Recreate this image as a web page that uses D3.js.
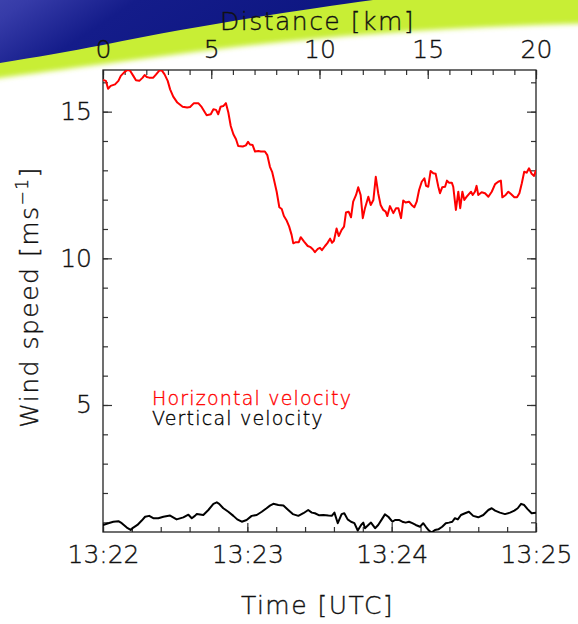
<!DOCTYPE html>
<html lang="en">
<head>
    <meta charset="UTF-8">
    <title>Wind speed along the flight track</title>
    <style>
        html, body { margin: 0; padding: 0; background: #fff; }
        svg { display: block; }
        text { font-family: "DejaVu Sans", sans-serif; font-weight: 200; fill: #111; stroke: #111; stroke-width: 0.35px; }
        .axis path.domain { display: none; }
        .axis line { stroke: #333; stroke-width: 1.2px; }
    </style>
</head>
<body>
    <svg id="chart" width="578" height="624"></svg>

    <script src="https://d3js.org/d3.v7.min.js"></script>
    <script>
        // --- Data (seconds after 13:22:00 UTC, wind speed in m/s) ---
        const horizTime = [0, 1.2, 2.1, 3.2, 5.0, 6.4, 7.4, 8.7, 10.1, 11.2, 12.6, 13.7, 15.1, 16.5, 17.3, 18.2, 19.2, 20.9, 22.0, 23.4,
            24.5, 25.6, 26.9, 27.9, 29.2, 30.9, 33.1, 35.0, 36.2, 37.8, 39.6, 41.0, 42.4, 43.1, 44.8, 45.9, 47.0, 47.9, 48.9, 50.0,
            51.1, 52.1, 53.1, 54.2, 55.3, 56.2, 58.1, 59.4, 60.3, 61.1, 62.2, 63.2, 64.6, 65.6, 67.3, 68.3, 69.4, 70.3, 71.1, 72.2,
            73.3, 74.3, 75.2, 76.4, 77.4, 78.4, 79.1, 80.2, 81.4, 82.2, 83.6, 85.1, 86.3, 87.2, 88.1, 89.3, 90.2, 91.0, 92.3, 93.2,
            94.4, 95.2, 96.0, 97.1, 98.0, 99.2, 100.2, 101.0, 102.1, 103.1, 104.0, 105.2, 106.1, 107.1, 108.0, 108.9, 110.3, 111.3, 112.4, 113.4,
            114.4, 115.4, 116.5, 117.5, 118.2, 119.3, 120.7, 121.8, 122.8, 123.9, 124.8, 125.8, 127.2, 128.3, 129.4, 130.4, 131.4, 132.5, 133.6, 134.3,
            135.2, 136.2, 137.3, 138.3, 139.4, 140.1, 141.0, 142.2, 143.0, 143.8, 145.0, 145.6, 146.7, 147.7, 148.5, 149.4, 150.2, 151.2, 152.1, 153.0,
            153.7, 154.6, 155.3, 156.0, 157.4, 158.8, 160.2, 161.6, 163.0, 164.3, 165.4, 166.0, 167.4, 168.5, 169.6, 171.0, 172.1, 173.1, 174.1, 175.1,
            176.1, 177.1, 178.2, 179.2, 180];
        const horizSpeed = [16.08, 16.05, 15.78, 15.88, 15.93, 16.05, 16.22, 16.33, 16.42, 16.40, 16.22, 16.07, 16.05, 16.16, 16.25, 16.18, 16.16, 16.16, 16.26, 16.40,
            16.40, 16.27, 16.05, 15.76, 15.51, 15.31, 15.17, 15.14, 15.16, 15.29, 15.29, 15.16, 14.97, 14.88, 14.91, 15.08, 15.06, 14.91, 15.17, 15.19,
            15.29, 14.97, 14.51, 14.23, 14.06, 13.83, 13.81, 13.85, 13.97, 13.88, 13.86, 13.64, 13.66, 13.64, 13.64, 13.52, 13.12, 12.95, 12.67, 12.27,
            11.74, 11.68, 11.44, 11.28, 11.08, 10.80, 10.51, 10.55, 10.55, 10.72, 10.57, 10.42, 10.38, 10.31, 10.21, 10.32, 10.36, 10.28, 10.42, 10.51,
            10.67, 10.53, 10.60, 11.02, 10.76, 10.97, 11.08, 11.56, 11.59, 11.40, 11.93, 12.16, 12.42, 12.16, 11.37, 11.71, 12.10, 11.82, 11.99, 12.78,
            12.22, 11.82, 11.65, 11.59, 11.44, 11.78, 11.54, 11.71, 11.71, 11.37, 11.97, 11.90, 11.93, 11.82, 11.74, 11.93, 12.33, 12.61, 12.73, 12.47,
            12.44, 12.98, 12.90, 12.88, 12.44, 12.22, 12.42, 12.44, 12.65, 12.58, 12.58, 12.44, 11.65, 12.27, 11.71, 12.27, 11.99, 12.10, 12.19, 12.27,
            12.16, 12.27, 12.47, 12.16, 12.25, 12.22, 12.10, 12.27, 12.53, 12.61, 12.65, 12.08, 12.16, 12.27, 12.19, 12.08, 12.08, 12.22, 12.56, 12.95,
            12.92, 13.07, 12.88, 12.81, 13.01];

        const vertTime = [0, 2.2, 4.3, 6.4, 7.8, 9.9, 11.5, 12.6, 14.3, 16.1, 17.5, 19.2, 20.9, 23.0, 25.1, 27.9, 30.6, 33.4, 35.5, 36.9,
            38.2, 39.0, 41.7, 43.8, 45.9, 47.3, 48.3, 50.0, 52.1, 54.2, 55.8, 57.7, 59.7, 61.8, 63.9, 66.0, 68.0, 69.4, 70.8, 72.9,
            75.0, 77.0, 78.9, 81.2, 83.3, 85.3, 86.8, 88.1, 89.9, 91.6, 93.7, 95.1, 96.2, 97.6, 99.2, 100.3, 101.7, 103.1, 104.5, 105.9,
            107.3, 108.2, 108.9, 110.3, 111.4, 113.1, 114.4, 115.9, 117.2, 118.6, 120.3, 121.4, 123.0, 124.4, 125.8, 127.2, 128.6, 130.0, 131.8, 133.1,
            134.3, 135.5, 136.6, 138.0, 139.4, 141.0, 142.5, 143.8, 145.2, 146.3, 147.5, 148.8, 150.5, 152.1, 153.9, 156.0, 158.1, 160.2, 161.6, 163.0,
            165.0, 167.1, 169.2, 171.0, 172.4, 173.8, 175.1, 176.5, 178.2, 180];
        const vertSpeed = [0.91, 0.97, 1.02, 1.04, 0.97, 0.82, 0.74, 0.82, 0.91, 1.06, 1.19, 1.22, 1.14, 1.14, 1.19, 1.23, 1.10, 1.17, 1.26, 1.14,
            1.22, 1.28, 1.25, 1.42, 1.63, 1.68, 1.63, 1.48, 1.36, 1.22, 1.10, 1.02, 1.08, 1.22, 1.25, 1.36, 1.48, 1.57, 1.63, 1.59,
            1.57, 1.42, 1.28, 1.22, 1.31, 1.42, 1.33, 1.31, 1.24, 1.25, 1.23, 1.22, 1.33, 0.97, 1.28, 1.31, 1.10, 1.02, 0.97, 0.72,
            0.91, 0.99, 0.80, 0.91, 0.99, 0.80, 0.91, 1.10, 1.27, 1.19, 1.02, 1.08, 1.08, 1.02, 0.99, 1.02, 0.97, 0.91, 0.85, 0.97,
            0.84, 0.72, 0.65, 0.74, 0.76, 0.85, 0.97, 0.99, 1.02, 1.14, 1.10, 1.25, 1.31, 1.36, 1.22, 1.17, 1.25, 1.42, 1.48, 1.40,
            1.33, 1.28, 1.33, 1.40, 1.48, 1.63, 1.59, 1.45, 1.31, 1.33];

        const timeTicks = [0, 60, 120, 180];
        const timeLabels = ["13:22", "13:23", "13:24", "13:25"];
        const distTicks = [0, 5, 10, 15, 20];
        const speedTicks = [5, 10, 15];
        const legendLabels = ["Horizontal velocity", "Vertical velocity"];
        const legendColors = ["#ff0000", "#000000"];

        // --- Layout ---
        const svg = d3.select("#chart");
        const pLeft = 103, pRight = 536, pTop = 70, pBottom = 532;

        // --- Decorative slide banner (blue + yellow-green swoosh) ---
        const defs = svg.append("defs");
        const grad = defs.append("linearGradient").attr("id", "blueGrad")
            .attr("x1", "0").attr("y1", "0").attr("x2", "1").attr("y2", "0.35");
        grad.append("stop").attr("offset", "0").attr("stop-color", "#4a50b6");
        grad.append("stop").attr("offset", "0.22").attr("stop-color", "#363ba8");
        grad.append("stop").attr("offset", "0.45").attr("stop-color", "#141c8a");
        grad.append("stop").attr("offset", "1").attr("stop-color", "#0c1580");
        defs.append("filter").attr("id", "soft").attr("x", "-10%").attr("y", "-50%").attr("width", "120%").attr("height", "200%")
            .append("feGaussianBlur").attr("stdDeviation", 2.5);
        defs.append("clipPath").attr("id", "plotClip")
            .append("rect").attr("x", pLeft).attr("y", pTop).attr("width", pRight - pLeft).attr("height", pBottom - pTop);

        svg.append("path")
            .attr("d", "M-30,-30 L620,-30 L620,23 C480,25 340,34 210,50 C130,60 60,70 -30,82 Z")
            .attr("fill", "#c8ee34")
            .attr("filter", "url(#soft)");
        svg.append("path")
            .attr("d", "M-30,-30 L390,-30 L373,0 C300,10 200,25 103,45 C60,53 20,60 -30,68 Z")
            .attr("fill", "url(#blueGrad)");

        // --- Scales ---
        const x = d3.scaleLinear().domain([0, 180]).range([pLeft, pRight]);
        const xDist = d3.scaleLinear().domain([0, 20]).range([pLeft, pRight]);
        const y = d3.scaleLinear().domain([0.67, 16.42]).range([pBottom, pTop]);

        // plot background
        svg.append("rect").attr("x", pLeft).attr("y", pTop)
            .attr("width", pRight - pLeft).attr("height", pBottom - pTop).attr("fill", "#fff");

        // --- Axes: ticks point inward ---
        function axisPair(axisFn, scale, major, minor, pos, pad, fmt) {
            svg.append("g").attr("class", "axis").attr("transform", pos)
                .call(axisFn(scale).tickValues(minor).tickSize(-5).tickFormat(""));
            return svg.append("g").attr("class", "axis").attr("transform", pos)
                .call(axisFn(scale).tickValues(major).tickSize(-9).tickPadding(pad)
                    .tickFormat(fmt || ""));
        }

        const timeMinor = d3.range(0, 181, 12);
        const distMinor = d3.range(0, 21, 1);
        const speedMinor = d3.range(1, 17, 1);

        const gx = axisPair(d3.axisBottom, x, timeTicks, timeMinor, `translate(0,${pBottom})`, 13,
            (d, i) => timeLabels[i]);
        gx.selectAll("text").attr("font-size", 25);

        const gt = axisPair(d3.axisTop, xDist, distTicks, distMinor, `translate(0,${pTop})`, 12, d3.format("d"));
        gt.selectAll("text").attr("font-size", 25);

        const gy = axisPair(d3.axisLeft, y, speedTicks, speedMinor, `translate(${pLeft},0)`, 11, d3.format("d"));
        gy.selectAll("text").attr("font-size", 25);

        axisPair(d3.axisRight, y, speedTicks, speedMinor, `translate(${pRight},0)`, 0);

        // frame
        svg.append("rect").attr("x", pLeft).attr("y", pTop)
            .attr("width", pRight - pLeft).attr("height", pBottom - pTop)
            .attr("fill", "none").attr("stroke", "#222").attr("stroke-width", 1.3);

        // --- Lines ---
        const plot = svg.append("g").attr("clip-path", "url(#plotClip)");
        const line = d3.line().x(d => x(d[0])).y(d => y(d[1]));

        plot.append("path")
            .datum(horizTime.map((t, i) => [t, horizSpeed[i]]))
            .attr("fill", "none").attr("stroke", legendColors[0]).attr("stroke-width", 2)
            .attr("stroke-linejoin", "round").attr("d", line);

        plot.append("path")
            .datum(vertTime.map((t, i) => [t, vertSpeed[i]]))
            .attr("fill", "none").attr("stroke", legendColors[1]).attr("stroke-width", 2)
            .attr("stroke-linejoin", "round").attr("d", line);

        // --- Legend ---
        legendLabels.forEach((lab, i) => {
            svg.append("text")
                .attr("x", 152).attr("y", 405 + i * 20)
                .attr("font-size", 19).attr("letter-spacing", 1.2)
                .style("fill", legendColors[i]).style("stroke", legendColors[i])
                .text(lab);
        });

        // --- Axis titles ---
        svg.append("text")
            .attr("x", (pLeft + pRight) / 2 - 2).attr("y", 614)
            .attr("text-anchor", "middle").attr("font-size", 25).attr("letter-spacing", 1.5)
            .text("Time [UTC]");

        svg.append("text")
            .attr("x", (pLeft + pRight) / 2 - 2).attr("y", 30)
            .attr("text-anchor", "middle").attr("font-size", 25).attr("letter-spacing", 1.5)
            .text("Distance [km]");

        const yt = svg.append("text")
            .attr("transform", `translate(38,${(pTop + pBottom) / 2 - 4}) rotate(-90)`)
            .attr("text-anchor", "middle").attr("font-size", 25).attr("letter-spacing", 1.5);
        yt.append("tspan").text("Wind speed [ms");
        yt.append("tspan").attr("font-size", 17).attr("dy", "-0.6em").text("\u22121");
        yt.append("tspan").attr("dy", "0.4em").text("]");
    </script>
</body>
</html>
